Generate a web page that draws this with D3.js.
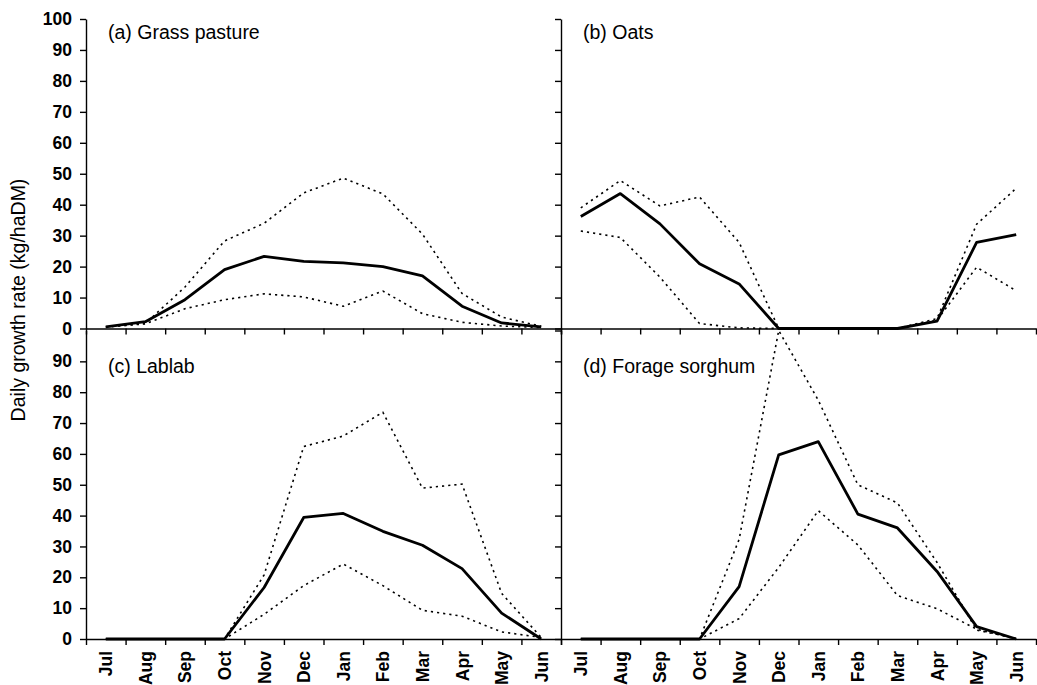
<!DOCTYPE html>
<html>
<head>
<meta charset="utf-8">
<script src="https://cdn.jsdelivr.net/npm/d3@7"></script>
<style>
  html, body { margin: 0; padding: 0; background: #fff; }
  svg { display: block; }
  text { font-family: "Liberation Sans", Arial, sans-serif; fill: #000; }
</style>
</head>
<body>
<svg id="chart" width="1037" height="685"></svg>
<script>
// ---------------- data ----------------
const months = ["Jul","Aug","Sep","Oct","Nov","Dec","Jan","Feb","Mar","Apr","May","Jun"];
const yTicks = [0,10,20,30,40,50,60,70,80,90,100];

const grassMean  = [0.5, 2.2, 9.3, 19, 23.3, 21.7, 21.2, 20, 17, 7.2, 1.8, 0.5];
const grassUpper = [0.5, 1.6, 13.4, 28.3, 34, 43.8, 48.6, 43.5, 30.5, 11.3, 3.7, 0.7];
const grassLower = [0.5, 1.5, 6.4, 9.3, 11.2, 10.2, 7.2, 12.1, 4.8, 2, 0.8, 0.3];

const oatsMean  = [36.2, 43.6, 33.8, 20.9, 14.4, 0, 0, 0, 0, 2.4, 27.8, 30.3];
const oatsUpper = [39, 47.8, 39.6, 42.5, 27.8, 0, 0, 0, 0, 3.2, 33.7, 45.3];
const oatsLower = [31.5, 29.4, 16.6, 1.6, 0.2, 0, 0, 0, 0, 2.7, 19.8, 12.2];

const lablabMean  = [0, 0, 0, 0, 16.7, 39.4, 40.7, 34.9, 30.4, 22.8, 8.4, 0];
const lablabUpper = [0, 0, 0, 0, 20.8, 62.4, 65.8, 73.5, 48.9, 50.2, 14.8, 0.5];
const lablabLower = [0, 0, 0, 0, 8, 17.3, 24.3, 17.3, 9.3, 7.4, 2.3, 0.5];

const sorghumMean  = [0, 0, 0, 0, 17, 59.7, 64, 40.5, 36, 21.9, 4, 0];
const sorghumUpper = [0, 0, 0, 0, 32.3, 100, 77.4, 50, 44.1, 24.8, 2.9, 0.2];
const sorghumLower = [0, 0, 0, 0, 6.6, 23.2, 41.6, 30.5, 14.1, 9.8, 3.2, 0];

const panelTitles = ["(a) Grass pasture", "(b) Oats", "(c) Lablab", "(d) Forage sorghum"];
const yTitle = "Daily growth rate (kg/haDM)";

// ---------------- layout ----------------
const svg = d3.select("#chart");
const FONT = '"Liberation Sans", Arial, sans-serif';

const panels = [
  { title: panelTitles[0], mean: grassMean,   upper: grassUpper,   lower: grassLower,   x0: 86,  x1: 561,  y0: 328.5, y1: 19,    labels: true,  months: false, titleY: 38.5 },
  { title: panelTitles[1], mean: oatsMean,    upper: oatsUpper,    lower: oatsLower,    x0: 561, x1: 1036, y0: 328.5, y1: 19,    labels: false, months: false, titleY: 38.5 },
  { title: panelTitles[2], mean: lablabMean,  upper: lablabUpper,  lower: lablabLower,  x0: 86,  x1: 561,  y0: 639,   y1: 330.5, labels: true,  months: true,  titleY: 372.5 },
  { title: panelTitles[3], mean: sorghumMean, upper: sorghumUpper, lower: sorghumLower, x0: 561, x1: 1036, y0: 639,   y1: 330.5, labels: false, months: true,  titleY: 372.5 }
];

// clip for the partially hidden "100" label of the lower-left panel
svg.append("defs").append("clipPath").attr("id", "clip100")
  .append("rect").attr("x", 51).attr("y", 300).attr("width", 40).attr("height", 60);

// draw lower panels first, upper panels on top
[2, 3, 0, 1].forEach(pi => {
  const p = panels[pi];
  const g = svg.append("g");
  const x = d3.scaleLinear().domain([0, months.length]).range([p.x0, p.x1]);
  const y = d3.scaleLinear().domain([0, 100]).range([p.y0, p.y1]);

  // x axis (ticks at category boundaries)
  const xAxis = d3.axisBottom(x).tickValues(d3.range(months.length + 1))
    .tickFormat("").tickSize(6).tickSizeOuter(0);
  const gx = g.append("g").attr("transform", `translate(0,${p.y0})`).call(xAxis);
  gx.select(".domain").attr("stroke", "#000").attr("stroke-width", 1.4);
  gx.selectAll(".tick line").attr("stroke", "#000").attr("stroke-width", 1.4);

  // y axis
  const yAxis = d3.axisLeft(y).tickValues(yTicks).tickSize(6).tickSizeOuter(0)
    .tickFormat(p.labels ? d3.format("d") : "");
  const gy = g.append("g").attr("transform", `translate(${p.x0},0)`).call(yAxis);
  gy.select(".domain").attr("stroke", "#000").attr("stroke-width", 1.4);
  gy.selectAll(".tick line").attr("stroke", "#000").attr("stroke-width", 1.4);
  gy.selectAll(".tick text")
    .attr("x", -14)
    .style("font-family", FONT).style("font-size", "17.5px").style("font-weight", "bold")
    .attr("fill", "#000");
  if (p.labels && p.months) {
    gy.selectAll(".tick").filter(d => d === 100).select("text").attr("clip-path", null);
    gy.selectAll(".tick").filter(d => d === 100).attr("clip-path", "url(#clip100)");
  }

  // month labels
  if (p.months) {
    g.selectAll("text.month").data(months).enter().append("text")
      .attr("class", "month")
      .attr("transform", (d, i) => `translate(${x(i + 0.5) + 6.5},651) rotate(-90)`)
      .attr("text-anchor", "end")
      .style("font-family", FONT).style("font-size", "17.5px").style("font-weight", "bold")
      .text(d => d);
  }

  // lines
  const line = d3.line().x((d, i) => x(i + 0.5)).y(d => y(d));
  [p.upper, p.lower].forEach(arr => {
    g.append("path").datum(arr).attr("d", line)
      .attr("fill", "none").attr("stroke", "#000").attr("stroke-width", 1.6)
      .attr("stroke-dasharray", "2.2,4");
  });
  g.append("path").datum(p.mean).attr("d", line)
    .attr("fill", "none").attr("stroke", "#000").attr("stroke-width", 2.8)
    .attr("stroke-linejoin", "round");

  // panel title
  g.append("text").attr("x", p.x0 + 22).attr("y", p.titleY)
    .style("font-family", FONT).style("font-size", "19.5px")
    .text(p.title);
});

// y axis title
svg.append("text")
  .attr("transform", "translate(25,300) rotate(-90)")
  .attr("text-anchor", "middle")
  .style("font-family", FONT).style("font-size", "19.5px")
  .text(yTitle);
</script>
</body>
</html>
